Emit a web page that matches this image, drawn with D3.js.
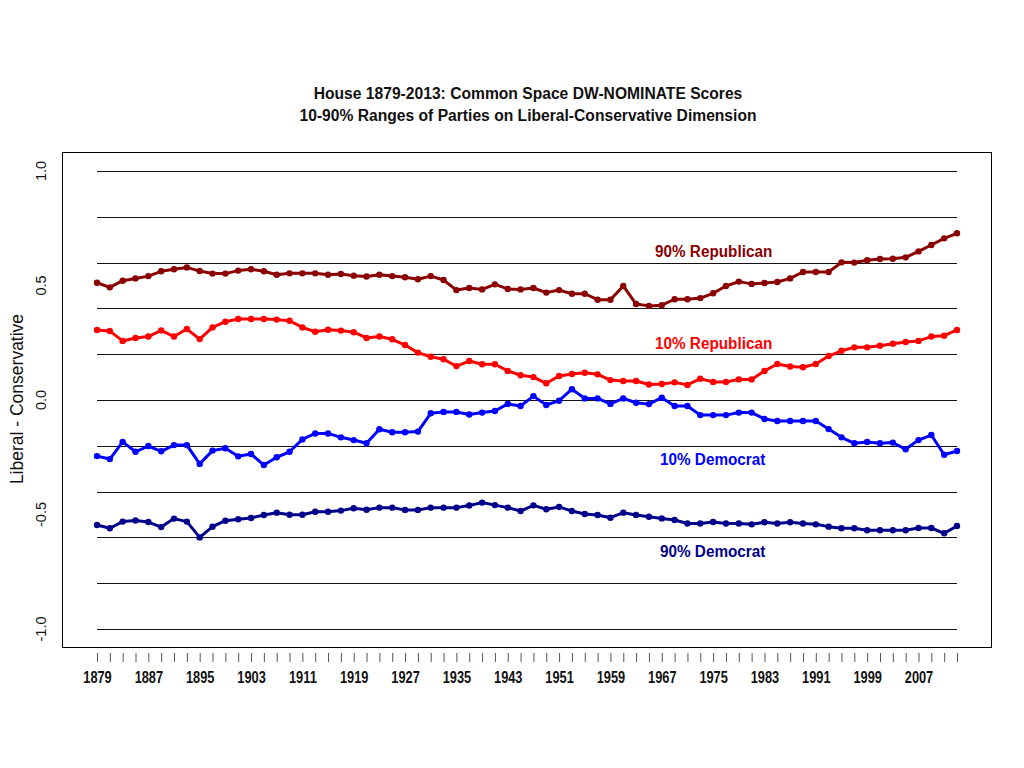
<!DOCTYPE html>
<html>
<head>
<meta charset="utf-8">
<script src="https://cdn.jsdelivr.net/npm/d3@7"></script>
<style>
  html, body { margin: 0; padding: 0; background: #fff; }
  svg { display: block; }
  .narrow { font-family: "Liberation Sans Narrow", "Arial Narrow", "Liberation Sans", Arial, sans-serif; font-weight: bold; }
  .reg { font-family: "Liberation Sans", Arial, sans-serif; }
</style>
</head>
<body>
<svg id="chart" width="1024" height="768"></svg>
<script>
const years = [1879,1881,1883,1885,1887,1889,1891,1893,1895,1897,1899,1901,1903,1905,1907,1909,1911,1913,1915,1917,1919,1921,1923,
  1925,1927,1929,1931,1933,1935,1937,1939,1941,1943,1945,1947,1949,1951,1953,1955,1957,1959,1961,1963,1965,1967,
  1969,1971,1973,1975,1977,1979,1981,1983,1985,1987,1989,1991,1993,1995,1997,1999,2001,2003,2005,2007,2009,2011,2013];

const rep90 = [0.512,0.492,0.521,0.531,0.541,0.562,0.571,0.579,0.563,0.552,0.552,0.565,0.571,0.562,0.547,0.553,0.553,0.553,0.547,0.550,0.543,0.539,0.547,
  0.541,0.536,0.527,0.541,0.524,0.480,0.489,0.483,0.505,0.485,0.483,0.489,0.469,0.480,0.464,0.464,0.438,0.438,0.498,0.419,0.411,0.414,
  0.440,0.440,0.445,0.466,0.498,0.517,0.507,0.511,0.515,0.531,0.559,0.559,0.559,0.601,0.600,0.610,0.616,0.617,0.623,0.649,0.677,0.706,0.728];

const rep10 = [0.306,0.301,0.258,0.271,0.277,0.304,0.277,0.310,0.266,0.317,0.342,0.354,0.354,0.354,0.351,0.346,0.317,0.298,0.307,0.303,0.296,0.271,0.277,
  0.265,0.240,0.207,0.189,0.178,0.148,0.170,0.156,0.156,0.127,0.108,0.100,0.073,0.105,0.114,0.119,0.112,0.087,0.083,0.083,0.068,0.070,
  0.077,0.066,0.093,0.079,0.079,0.090,0.090,0.127,0.157,0.146,0.143,0.157,0.192,0.215,0.230,0.230,0.237,0.246,0.253,0.258,0.277,0.281,0.306];

const dem10 = [-0.245,-0.258,-0.183,-0.226,-0.201,-0.224,-0.197,-0.197,-0.279,-0.221,-0.211,-0.246,-0.236,-0.284,-0.250,-0.226,-0.172,-0.146,-0.146,-0.163,-0.175,-0.189,-0.128,
  -0.141,-0.141,-0.138,-0.058,-0.052,-0.052,-0.063,-0.055,-0.048,-0.017,-0.026,0.017,-0.022,-0.003,0.047,0.007,0.007,-0.017,0.007,-0.012,-0.018,0.010,
  -0.026,-0.026,-0.066,-0.066,-0.066,-0.055,-0.055,-0.083,-0.092,-0.092,-0.092,-0.092,-0.127,-0.163,-0.189,-0.183,-0.189,-0.186,-0.215,-0.175,-0.153,-0.239,-0.223];

const dem90 = [-0.546,-0.560,-0.531,-0.526,-0.533,-0.555,-0.518,-0.531,-0.600,-0.553,-0.527,-0.521,-0.515,-0.502,-0.492,-0.501,-0.501,-0.488,-0.488,-0.483,-0.473,-0.479,-0.470,
  -0.470,-0.480,-0.480,-0.470,-0.470,-0.470,-0.461,-0.448,-0.459,-0.470,-0.485,-0.460,-0.477,-0.467,-0.485,-0.498,-0.502,-0.514,-0.492,-0.502,-0.510,-0.517,
  -0.524,-0.539,-0.539,-0.533,-0.539,-0.539,-0.543,-0.534,-0.539,-0.534,-0.539,-0.543,-0.553,-0.560,-0.560,-0.569,-0.569,-0.569,-0.569,-0.559,-0.559,-0.582,-0.550];

const seriesNames = ["90% Republican", "10% Republican", "10% Democrat", "90% Democrat"];
const seriesColors = ["#8b0000", "#ff0000", "#0000ff", "#00008b"];
const yTickLabels = ["-1.0", "-0.5", "0.0", "0.5", "1.0"];
const yTickValues = [-1, -0.5, 0, 0.5, 1];
const gridValues = [-1, -0.8, -0.6, -0.4, -0.2, 0, 0.2, 0.4, 0.6, 0.8, 1];
const xLabelYears = [1879,1887,1895,1903,1911,1919,1927,1935,1943,1951,1959,1967,1975,1983,1991,1999,2007];
const titleLines = ["House 1879-2013: Common Space DW-NOMINATE Scores", "10-90% Ranges of Parties on Liberal-Conservative Dimension"];
const yAxisTitle = "Liberal - Conservative";

const svg = d3.select("#chart");
const x = d3.scaleLinear().domain([1879, 2013]).range([97, 957]);
const y = d3.scaleLinear().domain([-1, 1]).range([629, 171]);

// plot box
svg.append("rect").attr("x", 62.5).attr("y", 152.5).attr("width", 929).attr("height", 495)
  .attr("fill", "none").attr("stroke", "#000").attr("stroke-width", 1);

// gridlines
svg.append("g").selectAll("line").data(gridValues).join("line")
  .attr("x1", x(1879)).attr("x2", x(2013))
  .attr("y1", d => Math.round(y(d)) + 0.5).attr("y2", d => Math.round(y(d)) + 0.5)
  .attr("stroke", "#111").attr("stroke-width", 1);

// x axis ticks and labels
const xAxis = d3.axisBottom(x).tickValues(years).tickSize(9).tickSizeOuter(0)
  .tickFormat(d => xLabelYears.includes(d) ? String(d) : "").tickPadding(10);
const gx = svg.append("g").attr("transform", "translate(0,653)").call(xAxis);
gx.select(".domain").remove();
gx.selectAll(".tick line").attr("stroke", "#555");
gx.selectAll(".tick text").attr("class", "narrow").attr("font-size", 16).attr("fill", "#111")
  .attr("transform", "scale(0.8,1)")
  .attr("x", 0)
  .each(function() {
    // keep centered under tick after horizontal condensing
    d3.select(this).attr("text-anchor", "middle");
  });

// y axis labels (rotated)
svg.append("g").selectAll("text").data(yTickValues).join("text")
  .attr("class", "reg")
  .attr("transform", d => `translate(46,${y(d)}) rotate(-90)`)
  .attr("text-anchor", "middle").attr("font-size", 14.5).attr("fill", "#111")
  .text((d, i) => yTickLabels[i]);

svg.append("text").attr("class", "reg")
  .attr("transform", `translate(23,${y(0) - 1}) rotate(-90)`)
  .attr("text-anchor", "middle").attr("font-size", 17.5).attr("fill", "#111")
  .text(yAxisTitle);

// title (condensed horizontally)
titleLines.forEach((t, i) => {
  svg.append("text").attr("class", "narrow")
    .attr("transform", `translate(528,${99 + i * 22}) scale(0.92,1)`)
    .attr("text-anchor", "middle").attr("font-size", 17).attr("fill", "#111")
    .text(t);
});

// series
const allSeries = [rep90, rep10, dem10, dem90];
const line = d3.line().x((d, i) => x(years[i])).y(d => y(d));
allSeries.forEach((vals, s) => {
  const g = svg.append("g");
  g.append("path").datum(vals).attr("d", line)
    .attr("fill", "none").attr("stroke", seriesColors[s]).attr("stroke-width", 3)
    .attr("stroke-linejoin", "round");
  g.selectAll("circle").data(vals).join("circle")
    .attr("cx", (d, i) => x(years[i])).attr("cy", d => y(d)).attr("r", 3.2)
    .attr("fill", seriesColors[s]);
});

// series labels
const labelPos = [[655, 257], [655, 349], [660, 465], [660, 557]];
seriesNames.forEach((name, s) => {
  svg.append("text").attr("class", "narrow")
    .attr("transform", `translate(${labelPos[s][0]},${labelPos[s][1]}) scale(0.9,1)`)
    .attr("font-size", 17).attr("fill", seriesColors[s]).text(name);
});
</script>
</body>
</html>
